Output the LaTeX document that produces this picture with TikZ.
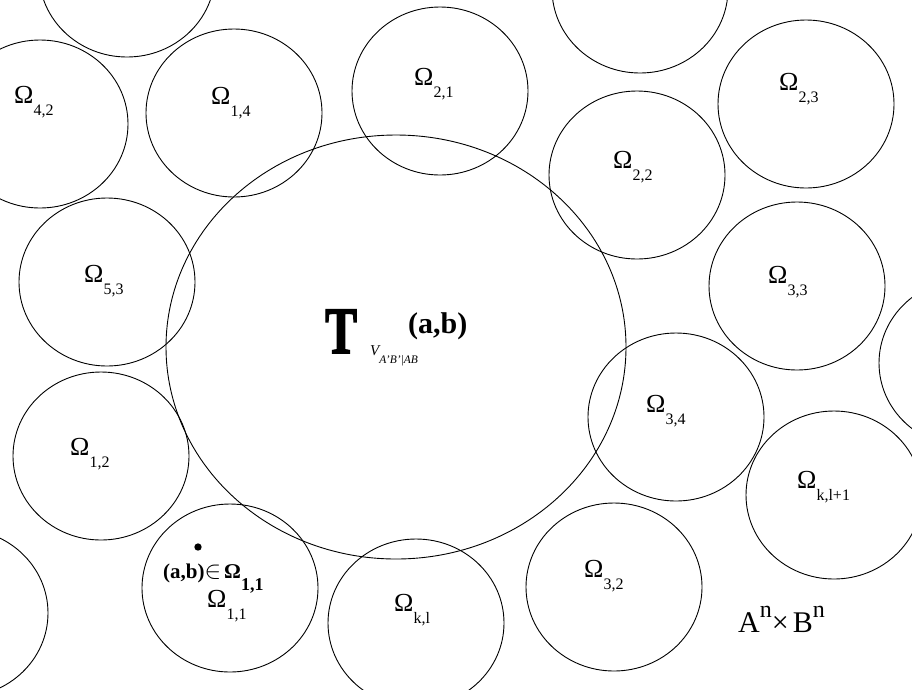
\documentclass[tikz,border=0pt]{standalone}
\usepackage{fontspec}
\setmainfont{Liberation Serif}
\newfontfamily\heavyfont{Liberation Serif}[BoldFeatures={FakeBold=2.5}]
\usepackage{graphicx}
\tikzset{
  ring/.style={draw, line width=0.9pt},
  omlabel/.style={anchor=base west, inner sep=0pt, font=\fontsize{26}{28}\selectfont},
  boldlabel/.style={anchor=base west, inner sep=0pt, font=\fontsize{21}{23}\selectfont\bfseries},
  dot/.style={circle, fill=black, inner sep=2.6pt}
}
\newcommand{\om}[1]{Ω\raisebox{-12pt}{\fontsize{16}{17}\selectfont #1}}

\begin{document}
\begin{tikzpicture}[x=1pt, y=-1pt]
    \useasboundingbox (0,0) rectangle (912,689);
    \clip (0,0) rectangle (912,689);
    % neighbourhoods
    \draw[ring] (127,-27) ellipse [x radius=88, y radius=84];
    \draw[ring] (40,124) ellipse [x radius=88, y radius=84];
    \draw[ring] (234,113) ellipse [x radius=88, y radius=84];
    \draw[ring] (440,91) ellipse [x radius=88, y radius=84];
    \draw[ring] (640,-11) ellipse [x radius=88, y radius=84];
    \draw[ring] (806,104) ellipse [x radius=88, y radius=84];
    \draw[ring] (637,175) ellipse [x radius=88, y radius=84];
    \draw[ring] (797,286) ellipse [x radius=88, y radius=84];
    \draw[ring] (967,363) ellipse [x radius=88, y radius=84];
    \draw[ring] (107,282) ellipse [x radius=88, y radius=84];
    \draw[ring] (101,456) ellipse [x radius=88, y radius=84];
    \draw[ring] (676,417) ellipse [x radius=88, y radius=84];
    \draw[ring] (834,495) ellipse [x radius=88, y radius=84];
    \draw[ring] (-40,613) ellipse [x radius=88, y radius=84];
    \draw[ring] (230,588) ellipse [x radius=88, y radius=84];
    \draw[ring] (416,623) ellipse [x radius=88, y radius=84];
    \draw[ring] (614,587) ellipse [x radius=88, y radius=84];
    % typical set
    \draw[ring] (396,347) ellipse [x radius=230, y radius=212];

    \node[omlabel] (o42) at (14,103) {\om{4,2}};
    \node[omlabel] (o14) at (211,104) {\om{1,4}};
    \node[omlabel] (o21) at (414,85) {\om{2,1}};
    \node[omlabel] (o23) at (779,90) {\om{2,3}};
    \node[omlabel] (o22) at (613,168) {\om{2,2}};
    \node[omlabel] (o53) at (84,282) {\om{5,3}};
    \node[omlabel] (o33) at (768,283) {\om{3,3}};
    \node[omlabel] (o12) at (70,455) {\om{1,2}};
    \node[omlabel] (o34) at (646,412) {\om{3,4}};
    \node[omlabel] (okl1) at (797,488) {\om{k,l+1}};
    \node[omlabel] (o32) at (584,577) {\om{3,2}};
    \node[omlabel] (okl) at (394,611) {\om{k,l}};
    \node[omlabel] (o11) at (207,607) {\om{1,1}};

    \node[dot] (pt) at (198,547) {};
    \node[boldlabel] (ptin) at (163,578)
      {(a,b)\mdseries\fontsize{24}{25}\selectfont$\in$\hspace{3pt}\fontsize{21}{23}\selectfont\bfseries Ω\raisebox{-12pt}{\fontsize{18}{19}\selectfont 1,1}};

    \node[anchor=base west, inner sep=0pt] (tset) at (325,353)
      {\scalebox{0.72}[1]{\fontsize{66}{66}\heavyfont\bfseries T}};
    \node[anchor=base west, inner sep=0pt] (tsub) at (370,355)
      {\fontsize{15}{16}\selectfont\itshape V\raisebox{-8pt}{\fontsize{11.5}{12}\selectfont A'B'|AB}};
    \node[anchor=base west, inner sep=0pt, font=\fontsize{30}{32}\selectfont\bfseries] (tpt) at (408,333) {(a,b)};

    \node[anchor=base west, inner sep=0pt, font=\fontsize{30}{32}\selectfont] (space) at (738,632)
      {A\raisebox{15pt}{\fontsize{24}{25}\selectfont n}×\hspace{4pt}B\raisebox{15pt}{\fontsize{24}{25}\selectfont n}};
\end{tikzpicture}
\end{document}
